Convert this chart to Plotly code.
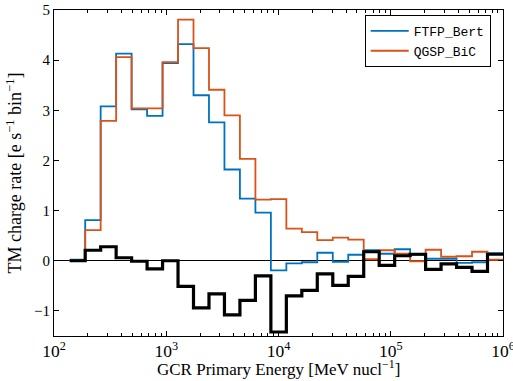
import numpy as np
import plotly.graph_objects as go

# log10 of bin edges (28 log-spaced bins)
log_edge_start = 2.14
log_edge_stop = 6.0
n_bins = 28

ftfp_bert = [0.02, 0.81, 3.08, 4.13, 3.02, 2.89, 3.94, 4.32, 3.30, 2.76, 1.82, 1.24, 0.96, -0.19,
             -0.05, -0.03, 0.16, -0.02, 0.12, 0.21, 0.14, 0.23, 0.12, 0.04, 0.04, -0.04, -0.03, 0.15]
qgsp_bic = [0.0, 0.61, 2.79, 4.06, 3.04, 3.04, 3.96, 4.81, 4.24, 3.41, 2.90, 2.03, 1.22, 1.23,
            0.64, 0.57, 0.41, 0.46, 0.42, 0.03, 0.21, 0.14, -0.01, 0.22, 0.08, 0.09, 0.18, 0.02]
difference = [0.0, 0.21, 0.28, 0.06, -0.01, -0.16, 0.0, -0.51, -0.94, -0.66, -1.08, -0.79, -0.30, -1.42,
              -0.70, -0.59, -0.26, -0.49, -0.31, 0.18, -0.09, 0.10, 0.13, -0.17, -0.06, -0.13, -0.21, 0.13]

edges = np.logspace(log_edge_start, log_edge_stop, n_bins + 1)

def stairs(vals):
    return list(edges), list(vals) + [vals[-1]]

fig = go.Figure()
x, y = stairs(ftfp_bert)
fig.add_trace(go.Scatter(x=x, y=y, mode="lines", line=dict(shape="hv", color="#0072BD", width=1.8),
                         name="FTFP_Bert"))
x, y = stairs(qgsp_bic)
fig.add_trace(go.Scatter(x=x, y=y, mode="lines", line=dict(shape="hv", color="#D95319", width=1.8),
                         name="QGSP_BiC"))
x, y = stairs(difference)
fig.add_trace(go.Scatter(x=x, y=y, mode="lines", line=dict(shape="hv", color="black", width=3.2),
                         name="difference", showlegend=False))

serif = "Liberation Serif"
fig.update_layout(
    width=513, height=381,
    margin=dict(l=54, r=10, t=10, b=45),
    paper_bgcolor="white", plot_bgcolor="white",
    font=dict(family=serif, size=14, color="black"),
    legend=dict(x=0.692, y=0.985, xanchor="left", yanchor="top",
                bordercolor="black", borderwidth=1, bgcolor="white",
                font=dict(family="Liberation Mono", size=13, color="black"),
                tracegroupgap=0, itemwidth=38),
    xaxis=dict(type="log", range=[2, 6.0002], dtick=1, exponentformat="power",
               showline=True, linecolor="black", linewidth=1, mirror="ticks",
               ticks="inside", ticklen=5, tickcolor="black", ticklabeloverflow="allow",
               automargin=False,
               minor=dict(ticks="inside", ticklen=3, tickcolor="black", dtick="D1", showgrid=False),
               showgrid=False, zeroline=False,
               tickfont=dict(family=serif, size=14)),
    yaxis=dict(range=[-1.5, 5], dtick=1, tick0=0,
               showline=True, linecolor="black", linewidth=1, mirror="ticks",
               ticks="inside", ticklen=5, tickcolor="black", automargin=False,
               showgrid=False, zeroline=True, zerolinecolor="black", zerolinewidth=1,
               tickfont=dict(family=serif, size=15),
               title=dict(text="TM charge rate [e s<sup>\u22121</sup> bin<sup>\u22121</sup>]", standoff=7,
                          font=dict(family=serif, size=18))),
    annotations=[dict(text="GCR Primary Energy [MeV nucl<sup>\u22121</sup>]",
                      xref="paper", yref="paper", x=0.5, y=-0.134,
                      xanchor="center", yanchor="bottom", showarrow=False, borderpad=0,
                      font=dict(family=serif, size=17, color="black"))],
)

fig.write_html("out.html")
